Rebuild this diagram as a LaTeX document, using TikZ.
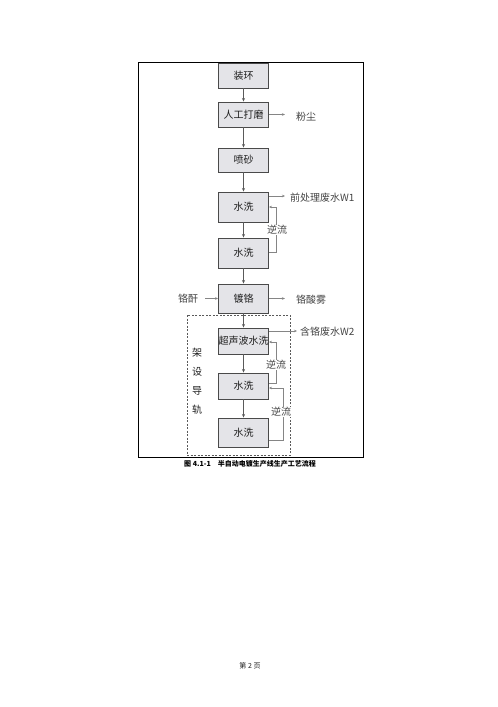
\documentclass[tikz,border=0pt]{standalone}
\usepackage{fontspec}
\setmainfont{Noto Sans CJK SC}
\usetikzlibrary{arrows.meta}
\definecolor{boxfill}{HTML}{E4E4E8}
\definecolor{boxline}{HTML}{4A4A4A}
\definecolor{flow}{HTML}{5A5A5A}
\definecolor{side}{HTML}{858585}
\definecolor{txt}{HTML}{1E1E1E}
\definecolor{lbl}{HTML}{444444}
\begin{document}
\begin{tikzpicture}[x=1pt,y=1pt,
  procbox/.style={draw=boxline,line width=0.9pt,fill=boxfill,minimum width=50pt,inner sep=0pt,font=\fontsize{10}{12}\selectfont,text=txt},
  flowarr/.style={draw=flow,line width=0.7pt,-{Stealth[length=3.5pt,width=3pt]}},
  sidearr/.style={draw=side,line width=0.5pt,-{Stealth[length=3pt,width=2.5pt]}},
  lab/.style={font=\fontsize{10}{12}\selectfont,text=lbl,inner sep=0pt},
  rail/.style={draw=flow,line width=0.6pt,dashed,dash pattern=on 2pt off 1.5pt}]
\useasboundingbox (0,0) rectangle (498,-707);
\fill[white] (0,0) rectangle (498,-707);
% outer frame
\draw[black,line width=0.8pt] (138,-62) rectangle (363,-457);
% dashed rail box
\draw[rail] (187,-315) rectangle (290,-455);
% process boxes
\node[procbox,minimum height=25pt] (b1) at (243.5,-75.5) {装环};
\node[procbox,minimum height=25pt] (b2) at (243.5,-114.5) {人工打磨};
\node[procbox,minimum height=24pt] (b3) at (243.5,-160) {喷砂};
\node[procbox,minimum height=30pt] (b4) at (243.5,-207) {水洗};
\node[procbox,minimum height=30pt] (b5) at (243.5,-253) {水洗};
\node[procbox,minimum height=29pt] (b6) at (243.5,-298.5) {镀铬};
\node[procbox,minimum height=26pt] (b7) at (243.5,-341) {超声波水洗};
\node[procbox,minimum height=26pt] (b8) at (243.5,-386) {水洗};
\node[procbox,minimum height=29pt] (b9) at (243.5,-432.5) {水洗};
% main flow
\draw[flowarr] (b1) -- (b2);
\draw[flowarr] (b2) -- (b3);
\draw[flowarr] (b3) -- (b4);
\draw[flowarr] (b4) -- (b5);
\draw[flowarr] (b5) -- (b6);
\draw[flowarr] (b6) -- (b7);
\draw[flowarr] (b7) -- (b8);
\draw[flowarr] (b8) -- (b9);
% side outputs
\coordinate (e2) at (285,-114.5);
\node[lab,anchor=west] (dust) at (296,-117) {粉尘};
\draw[sidearr] (b2.east) -- (e2);
\coordinate (e4) at (285,-196);
\node[lab,anchor=west] (w1) at (290,-198) {前处理废水W1};
\draw[sidearr] ([yshift=11pt]b4.east) -- (e4);
\coordinate (e6) at (285,-298.5);
\node[lab,anchor=west] (mist) at (296,-299.5) {铬酸雾};
\draw[sidearr] (b6.east) -- (e6);
\coordinate (s6) at (205,-298.5);
\node[lab] (cro) at (188,-298.5) {铬酐};
\draw[sidearr] (s6) -- (b6.west);
\coordinate (e7) at (297,-331);
\node[lab,anchor=west] (w2) at (300,-332) {含铬废水W2};
\draw[sidearr] ([yshift=10pt]b7.east) -- (e7);
% counter flows
\draw[sidearr] ([yshift=1pt]b5.east) -- ++(7.5,0) |- (b4.east);
\node[lab,fill=white,inner sep=0.5pt] (r1) at (277,-230) {逆流};
\draw[sidearr] ([yshift=3pt]b8.east) -- ++(7,0) |- ([yshift=-1pt]b7.east);
\node[lab,fill=white,inner sep=0.5pt] (r2) at (276,-365) {逆流};
\draw[sidearr] ([yshift=-7.5pt]b9.east) -- ++(14.5,0) |- ([yshift=-2pt]b8.east);
\node[lab,fill=white,inner sep=0.5pt] (r3) at (281,-412) {逆流};
% rail label
\node[lab,align=center,text=txt] (railtxt) at (197,-381) {架\\[7pt]设\\[7pt]导\\[7pt]轨};
% caption
\node[font=\fontsize{7}{8}\selectfont\bfseries,inner sep=0pt] (cap) at (250,-463.5) {图 4.1-1\quad 半自动电镀生产线生产工艺流程};
% footer
\node[font=\fontsize{7}{8}\selectfont,text=txt,inner sep=0pt] (foot) at (250,-666) {第 2 页};
\end{tikzpicture}
\end{document}
